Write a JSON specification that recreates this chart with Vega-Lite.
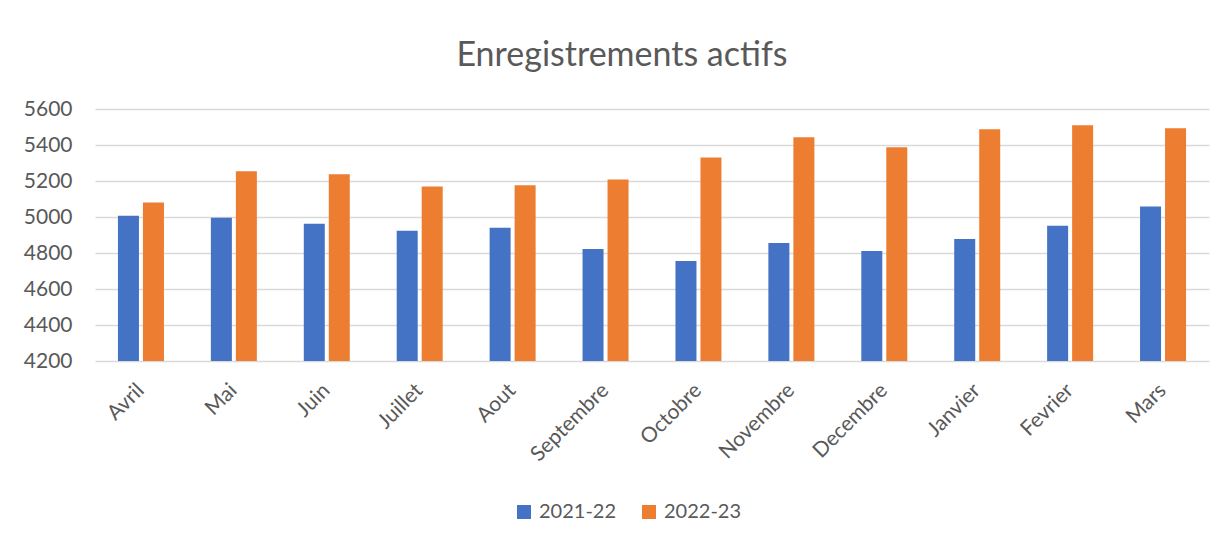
{
  "$schema": "https://vega.github.io/schema/vega-lite/v6.json",
  "width": 1114,
  "height": 252,
  "autosize": "none",
  "padding": {"left": 95, "top": 109, "right": 17, "bottom": 183},
  "background": "white",
  "title": {
    "text": "Enregistrements actifs",
    "font": "Lato",
    "fontSize": 34,
    "fontWeight": "normal",
    "color": "#595959",
    "anchor": "middle",
    "dx": -30,
    "offset": 25
  },
  "data": {
    "values": [
      {"mois": "Avril", "periode": "2021-22", "valeur": 5007},
      {"mois": "Avril", "periode": "2022-23", "valeur": 5080},
      {"mois": "Mai", "periode": "2021-22", "valeur": 4996},
      {"mois": "Mai", "periode": "2022-23", "valeur": 5254},
      {"mois": "Juin", "periode": "2021-22", "valeur": 4963},
      {"mois": "Juin", "periode": "2022-23", "valeur": 5237},
      {"mois": "Juillet", "periode": "2021-22", "valeur": 4924},
      {"mois": "Juillet", "periode": "2022-23", "valeur": 5170},
      {"mois": "Aout", "periode": "2021-22", "valeur": 4940},
      {"mois": "Aout", "periode": "2022-23", "valeur": 5176},
      {"mois": "Septembre", "periode": "2021-22", "valeur": 4822},
      {"mois": "Septembre", "periode": "2022-23", "valeur": 5209},
      {"mois": "Octobre", "periode": "2021-22", "valeur": 4755},
      {"mois": "Octobre", "periode": "2022-23", "valeur": 5331},
      {"mois": "Novembre", "periode": "2021-22", "valeur": 4856},
      {"mois": "Novembre", "periode": "2022-23", "valeur": 5443},
      {"mois": "Decembre", "periode": "2021-22", "valeur": 4811},
      {"mois": "Decembre", "periode": "2022-23", "valeur": 5387},
      {"mois": "Janvier", "periode": "2021-22", "valeur": 4878},
      {"mois": "Janvier", "periode": "2022-23", "valeur": 5488},
      {"mois": "Fevrier", "periode": "2021-22", "valeur": 4951},
      {"mois": "Fevrier", "periode": "2022-23", "valeur": 5510},
      {"mois": "Mars", "periode": "2021-22", "valeur": 5058},
      {"mois": "Mars", "periode": "2022-23", "valeur": 5493}
    ]
  },
  "mark": {"type": "bar", "clip": true},
  "encoding": {
    "x": {
      "field": "mois",
      "type": "nominal",
      "sort": null,
      "scale": {"paddingInner": 0.505, "paddingOuter": 0.247},
      "axis": {
        "title": null,
        "labelAngle": -45,
        "labelAlign": "right",
        "labelBaseline": "middle",
        "labelFont": "Lato",
        "labelFontSize": 21,
        "labelColor": "#595959",
        "labelPadding": 26,
        "ticks": false,
        "domain": false,
        "grid": false
      }
    },
    "xOffset": {
      "field": "periode",
      "type": "nominal",
      "scale": {"paddingInner": 0.16, "paddingOuter": 0}
    },
    "y": {
      "field": "valeur",
      "type": "quantitative",
      "scale": {"domain": [4200, 5600], "zero": false, "nice": false},
      "axis": {
        "title": null,
        "values": [4200, 4400, 4600, 4800, 5000, 5200, 5400, 5600],
        "format": "d",
        "labelFont": "Lato",
        "labelFontSize": 21,
        "labelColor": "#595959",
        "labelPadding": 23,
        "ticks": false,
        "domain": false,
        "grid": true,
        "gridColor": "#d9d9d9",
        "gridWidth": 1.5
      }
    },
    "color": {
      "field": "periode",
      "type": "nominal",
      "scale": {"domain": ["2021-22", "2022-23"], "range": ["#4472C4", "#ED7D31"]},
      "legend": {
        "title": null,
        "orient": "none",
        "direction": "horizontal",
        "legendX": 419,
        "legendY": 393,
        "symbolType": "square",
        "symbolSize": 196,
        "symbolStrokeWidth": 0,
        "labelFont": "Lato",
        "labelFontSize": 20,
        "labelColor": "#595959",
        "labelOffset": 5,
        "columnPadding": 22
      }
    }
  },
  "config": {"view": {"stroke": null}}
}
